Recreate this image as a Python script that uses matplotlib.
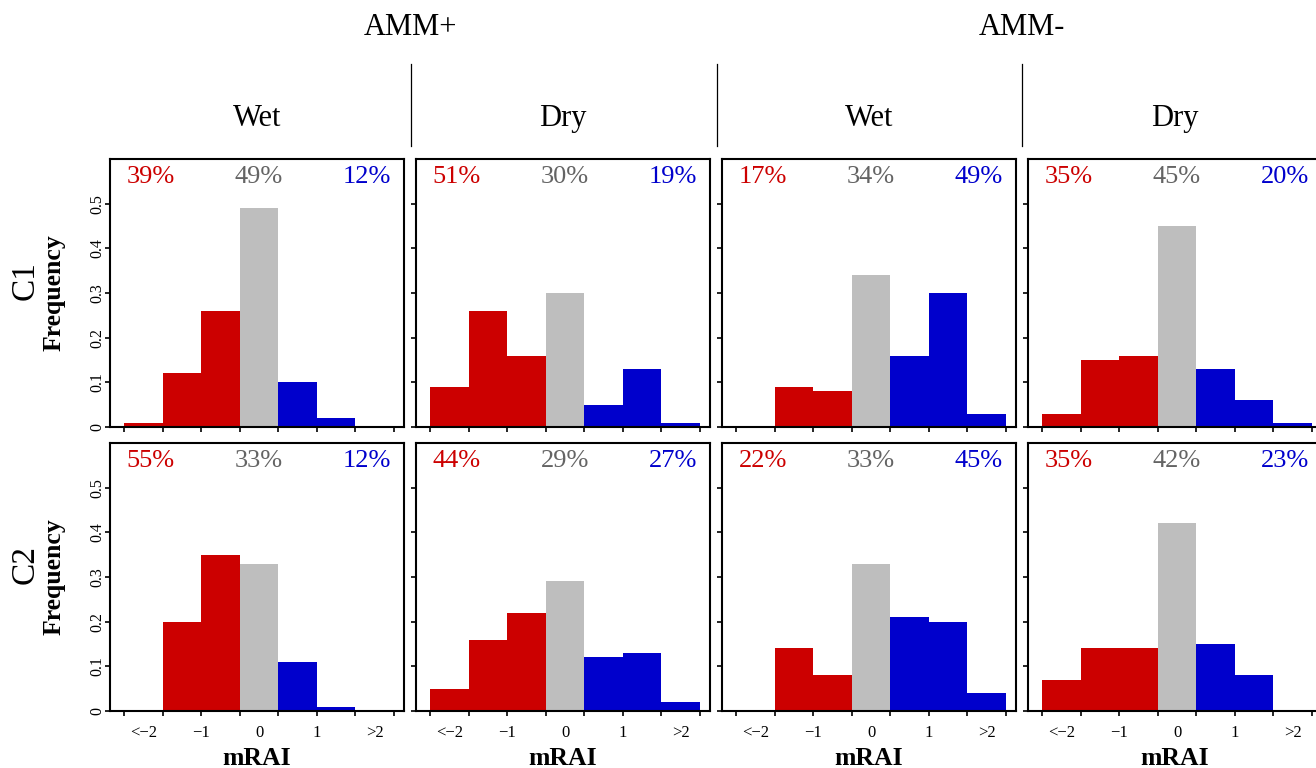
import matplotlib
matplotlib.use("Agg")
import matplotlib.pyplot as plt
from matplotlib.lines import Line2D

plt.rcParams['font.family'] = ['Liberation Serif', 'DejaVu Serif']

# ---------------- data ----------------
bin_labels = ["<\u22122", "\u22121", "0", "1", ">2"]
row_names = ["C1", "C2"]
phase_names = ["AMM+", "AMM-"]
season_names = ["Wet", "Dry", "Wet", "Dry"]

# frequencies of the 7 mRAI classes, per panel (row C1 / C2, columns AMM+Wet, AMM+Dry, AMM-Wet, AMM-Dry)
c1_amm_pos_wet = [0.01, 0.12, 0.26, 0.49, 0.10, 0.02, 0.00]
c1_amm_pos_dry = [0.09, 0.26, 0.16, 0.30, 0.05, 0.13, 0.01]
c1_amm_neg_wet = [0.00, 0.09, 0.08, 0.34, 0.16, 0.30, 0.03]
c1_amm_neg_dry = [0.03, 0.15, 0.16, 0.45, 0.13, 0.06, 0.01]
c2_amm_pos_wet = [0.00, 0.20, 0.35, 0.33, 0.11, 0.01, 0.00]
c2_amm_pos_dry = [0.05, 0.16, 0.22, 0.29, 0.12, 0.13, 0.02]
c2_amm_neg_wet = [0.00, 0.14, 0.08, 0.33, 0.21, 0.20, 0.04]
c2_amm_neg_dry = [0.07, 0.14, 0.14, 0.42, 0.15, 0.08, 0.00]

# percentage labels (dry / normal / wet share)
c1_pct = [["39%", "49%", "12%"], ["51%", "30%", "19%"], ["17%", "34%", "49%"], ["35%", "45%", "20%"]]
c2_pct = [["55%", "33%", "12%"], ["44%", "29%", "27%"], ["22%", "33%", "45%"], ["35%", "42%", "23%"]]

freqs = [[c1_amm_pos_wet, c1_amm_pos_dry, c1_amm_neg_wet, c1_amm_neg_dry],
         [c2_amm_pos_wet, c2_amm_pos_dry, c2_amm_neg_wet, c2_amm_neg_dry]]
pcts = [c1_pct, c2_pct]

RED = "#CC0000"
GRAY = "#BEBEBE"
BLUE = "#0000CC"
TXT_GRAY = "#646464"
bar_colors = [RED, RED, RED, GRAY, BLUE, BLUE, BLUE]
pct_colors = [RED, TXT_GRAY, BLUE]

# ---------------- layout ----------------
W, H = 1316, 768
fig = plt.figure(figsize=(W / 100, H / 100), dpi=100)

col_left = [110, 416, 722, 1028]
pan_w = 294
row_top = [159, 443]
pan_h = 268

def fx(px):
    return px / W

def fy(py):
    return 1 - py / H

edges = list(range(7))
label_pos = [0.5, 2, 3.5, 5, 6.5]

for r in range(2):
    for c in range(4):
        ax = fig.add_axes([fx(col_left[c]), fy(row_top[r] + pan_h), pan_w / W, pan_h / H])
        ax.xaxis.remove_overlapping_locs = False
        vals = freqs[r][c]
        ax.bar(edges, vals, width=1.0, align='edge', color=bar_colors, linewidth=0)
        ax.set_xlim(-0.363, 7.259)
        ax.set_ylim(0, 0.6)
        for s in ax.spines.values():
            s.set_linewidth(1.5)
            s.set_color('black')
        ax.set_xticks(range(8))
        ax.set_xticklabels([])
        ax.set_xticks(label_pos, minor=True)
        if r == 1:
            ax.set_xticklabels(bin_labels, minor=True, fontsize=12)
        else:
            ax.set_xticklabels([], minor=True)
        ax.tick_params(axis='x', which='major', direction='out', length=3.5, width=1.2)
        ax.tick_params(axis='x', which='minor', length=0, pad=10)
        ax.set_yticks([0, 0.1, 0.2, 0.3, 0.4, 0.5])
        if c == 0:
            ax.set_yticklabels(["0", "0.1", "0.2", "0.3", "0.4", "0.5"], rotation=90,
                               va='center', fontsize=11.5)
        else:
            ax.set_yticklabels([])
        ax.tick_params(axis='y', direction='out', length=3.5, width=1.2, pad=0)
        ax.tick_params(top=False, right=False)
        for k, xp in enumerate([0.69, 3.5, 6.3]):
            ax.text(xp, 0.546, pcts[r][c][k], color=pct_colors[k], fontsize=19,
                    ha='center', va='baseline')
        if r == 1:
            fig.text(fx(col_left[c] + pan_w / 2), fy(765), "mRAI", fontsize=18.5,
                     fontweight='bold', ha='center', va='baseline')

# row labels
for r in range(2):
    cy = row_top[r] + pan_h / 2
    fig.text(fx(25), fy(cy - 12), row_names[r], rotation=90, fontsize=24,
             ha='center', va='center')
    fig.text(fx(54), fy(cy), "Frequency", rotation=90, fontsize=18.5,
             fontweight='bold', ha='center', va='center')

# column headers
for c in range(4):
    fig.text(fx(col_left[c] + pan_w / 2), fy(126), season_names[c], fontsize=22,
             ha='center', va='baseline')

for name, xpx in zip(phase_names, [411, 1022]):
    fig.text(fx(xpx), fy(35), name, fontsize=22, ha='center', va='baseline')

for xpx in [411, 717, 1022]:
    fig.add_artist(Line2D([fx(xpx), fx(xpx)], [fy(64), fy(146)], transform=fig.transFigure,
                          color='black', linewidth=0.9))

fig.savefig("out.png", dpi=100)
